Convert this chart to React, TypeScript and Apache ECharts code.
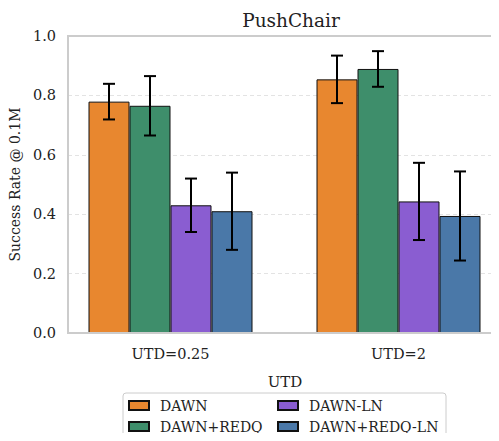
import React, { useEffect, useRef } from "react";
import * as echarts from "echarts";

const categories = ["UTD=0.25", "UTD=2"];
const seriesNames = ["DAWN", "DAWN+REDQ", "DAWN-LN", "DAWN+REDQ-LN"];
const colors = ["#E8872F", "#3E8E6B", "#8A5DD1", "#4A78A8"];
const dawn = [0.779, 0.854];
const dawnRedq = [0.765, 0.889];
const dawnLn = [0.43, 0.443];
const dawnRedqLn = [0.41, 0.394];
const dawnErr = [0.06, 0.08];
const dawnRedqErr = [0.1, 0.06];
const dawnLnErr = [0.09, 0.13];
const dawnRedqLnErr = [0.13, 0.15];
const yTicks = [0, 0.2, 0.4, 0.6, 0.8, 1.0];

const values = [dawn, dawnRedq, dawnLn, dawnRedqLn];
const errs = [dawnErr, dawnRedqErr, dawnLnErr, dawnRedqLnErr];

const FONT = "DejaVu Serif";
const BAR_W = 41;

export default function App() {
  const ref = useRef<HTMLDivElement>(null);
  useEffect(() => {
    if (!ref.current) return;
    const chart = echarts.init(ref.current, undefined, { renderer: "svg" });
    const top = 36;
    const height = 297;

    const barSeries = seriesNames.map((name, i) => ({
      name,
      type: "bar",
      xAxisIndex: 0,
      yAxisIndex: 0,
      data: values[i],
      barWidth: BAR_W,
      barGap: "0%",
      itemStyle: { color: colors[i], borderColor: "#111", borderWidth: 1 },
      z: 3,
    }));

    const errSeries = seriesNames.map((name, i) => ({
      name: name + "-err",
      type: "custom",
      xAxisIndex: 0,
      yAxisIndex: 0,
      z: 5,
      data: values[i].map((v, j) => [j, v, errs[i][j]]),
      renderItem: (params: any, api: any) => {
        const x = api.value(0);
        const v = api.value(1);
        const e = api.value(2);
        const off = (i - 1.5) * BAR_W;
        const p1 = api.coord([x, v + e]);
        const p2 = api.coord([x, v - e]);
        const cx = p1[0] + off;
        const cap = 6;
        const style = { stroke: "#000", lineWidth: 2 };
        return {
          type: "group",
          children: [
            { type: "line", shape: { x1: cx, y1: p1[1], x2: cx, y2: p2[1] }, style },
            { type: "line", shape: { x1: cx - cap, y1: p1[1], x2: cx + cap, y2: p1[1] }, style },
            { type: "line", shape: { x1: cx - cap, y1: p2[1], x2: cx + cap, y2: p2[1] }, style },
          ],
        };
      },
    }));

    const legendCommon = {
      orient: "vertical",
      itemWidth: 20,
      itemHeight: 9,
      itemGap: 6,
      padding: 0,
      height: 40,
      icon: "rect",
      textStyle: { fontFamily: FONT, fontSize: 14, color: "#222", lineHeight: 15, padding: [0, 0, 0, 6] },
      top: 398,
    };

    chart.setOption({
      animation: false,
      title: {
        text: "PushChair",
        left: 286,
        textAlign: "center",
        top: 6,
        textStyle: { fontFamily: FONT, fontSize: 18.5, fontWeight: "normal", color: "#222" },
      },
      grid: [
        { left: 56.5, width: 456, top, height, outerBoundsMode: "none", containLabel: false },
        { left: 68, width: 434, top, height, outerBoundsMode: "none", containLabel: false },
      ],
      xAxis: [
        {
          type: "category",
          gridIndex: 0,
          data: categories,
          axisLine: { show: false },
          axisTick: { show: false },
          axisLabel: { fontFamily: FONT, fontSize: 14.5, color: "#222", margin: 13 },
        },
        {
          type: "value",
          gridIndex: 1,
          show: true,
          axisLine: { show: false },
          axisTick: { show: false },
          axisLabel: { show: false },
          splitLine: { show: false },
          name: "UTD",
          nameLocation: "middle",
          nameGap: 41,
          nameTextStyle: { fontFamily: FONT, fontSize: 15, color: "#222" },
        },
      ],
      yAxis: [
        { type: "value", gridIndex: 0, min: 0, max: 1, interval: 0.2, show: false },
        {
          type: "value",
          gridIndex: 1,
          min: 0,
          max: 1,
          interval: 0.2,
          axisLine: { show: false },
          axisTick: { show: false },
          axisLabel: {
            fontFamily: FONT,
            fontSize: 14.5,
            color: "#222",
            margin: 12,
            formatter: (v: number) => (yTicks.includes(Math.round(v * 10) / 10) ? v.toFixed(1) : ""),
          },
          splitLine: { show: true, lineStyle: { color: "#e3e3e3", type: [4, 3], width: 1 } },
          name: "Success Rate @ 0.1M",
          nameLocation: "middle",
          nameGap: 42,
          nameTextStyle: { fontFamily: FONT, fontSize: 14, color: "#222" },
        },
      ],
      legend: [
        { ...legendCommon, left: 128, data: ["DAWN", "DAWN+REDQ"] },
        { ...legendCommon, left: 277, data: ["DAWN-LN", "DAWN+REDQ-LN"] },
      ],
      graphic: [
        {
          type: "polyline",
          z: 10,
          shape: { points: [[520, 36], [68, 36], [68, 333], [520, 333]] },
          style: { stroke: "#cccccc", lineWidth: 2, fill: null },
        },
        {
          type: "rect",
          z: 10,
          shape: { x: 123, y: 393, width: 323, height: 54, r: 3 },
          style: { stroke: "#cccccc", lineWidth: 1, fill: "none" },
        },
      ],
      series: [...barSeries, ...errSeries],
    });
    return () => chart.dispose();
  }, []);
  return <div ref={ref} style={{ width: 499, height: 441, margin: -8 }} />;
}
